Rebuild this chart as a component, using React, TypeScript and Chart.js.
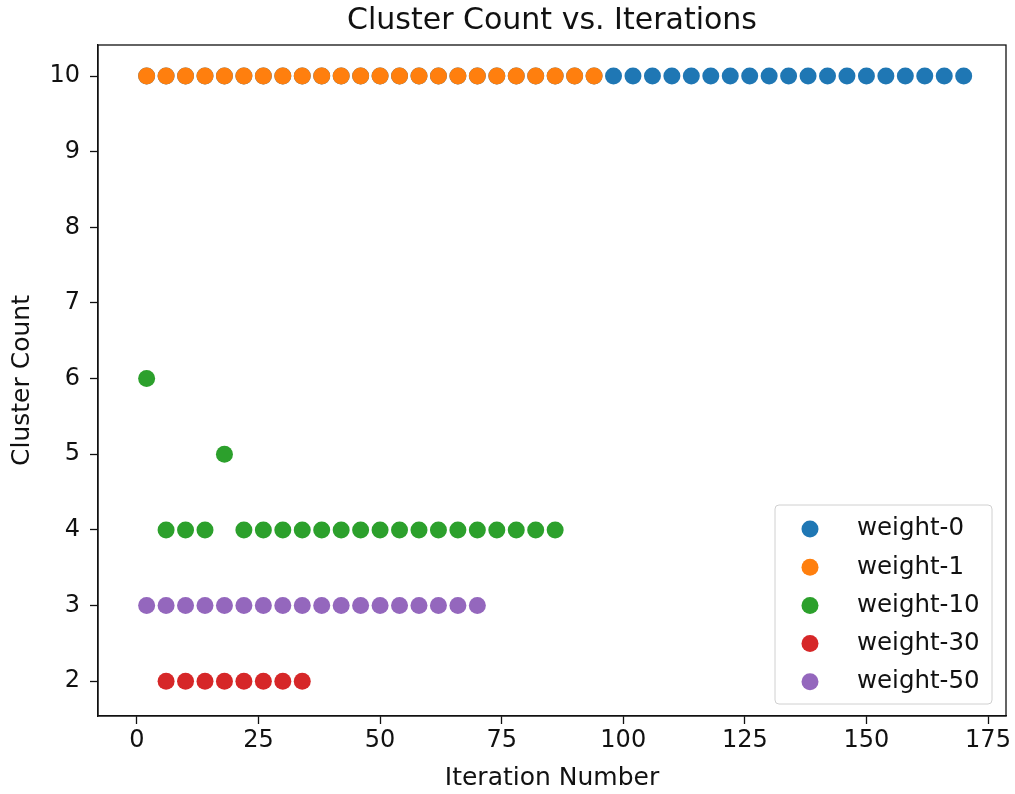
import React, { useEffect, useRef } from "react";
import { Chart, registerables } from "chart.js";

Chart.register(...registerables);

const chartTitle = "Cluster Count vs. Iterations";
const seriesLabels = ["weight-0", "weight-1", "weight-10", "weight-30", "weight-50"];
const seriesColors = ["#1f77b4", "#ff7f0e", "#2ca02c", "#d62728", "#9467bd"];

const weight0Iter = [2, 6, 10, 14, 18, 22, 26, 30, 34, 38, 42, 46, 50, 54, 58, 62, 66, 70, 74, 78, 82, 86, 90, 94, 98, 102, 106, 110, 114, 118, 122, 126, 130, 134, 138, 142, 146, 150, 154, 158, 162, 166, 170];
const weight0Count = [10, 10, 10, 10, 10, 10, 10, 10, 10, 10, 10, 10, 10, 10, 10, 10, 10, 10, 10, 10, 10, 10, 10, 10, 10, 10, 10, 10, 10, 10, 10, 10, 10, 10, 10, 10, 10, 10, 10, 10, 10, 10, 10];

const weight1Iter = [2, 6, 10, 14, 18, 22, 26, 30, 34, 38, 42, 46, 50, 54, 58, 62, 66, 70, 74, 78, 82, 86, 90, 94];
const weight1Count = [10, 10, 10, 10, 10, 10, 10, 10, 10, 10, 10, 10, 10, 10, 10, 10, 10, 10, 10, 10, 10, 10, 10, 10];

const weight10Iter = [2, 6, 10, 14, 18, 22, 26, 30, 34, 38, 42, 46, 50, 54, 58, 62, 66, 70, 74, 78, 82, 86];
const weight10Count = [6, 4, 4, 4, 5, 4, 4, 4, 4, 4, 4, 4, 4, 4, 4, 4, 4, 4, 4, 4, 4, 4];

const weight30Iter = [6, 10, 14, 18, 22, 26, 30, 34];
const weight30Count = [2, 2, 2, 2, 2, 2, 2, 2];

const weight50Iter = [2, 6, 10, 14, 18, 22, 26, 30, 34, 38, 42, 46, 50, 54, 58, 62, 66, 70];
const weight50Count = [3, 3, 3, 3, 3, 3, 3, 3, 3, 3, 3, 3, 3, 3, 3, 3, 3, 3];

const xTicks = [0, 25, 50, 75, 100, 125, 150, 175];
const yTicks = [2, 3, 4, 5, 6, 7, 8, 9, 10];

const FONT = "'DejaVu Sans', sans-serif";
const INK = "#111";

function pts(xs: number[], ys: number[]) {
  return xs.map((x, i) => ({ x, y: ys[i] }));
}

const framePlugin = {
  id: "frame",
  afterDatasetsDraw(chart: any) {
    const { ctx, chartArea } = chart;
    ctx.save();
    ctx.strokeStyle = INK;
    ctx.lineWidth = 1.3;
    ctx.strokeRect(chartArea.left, chartArea.top, chartArea.right - chartArea.left, chartArea.bottom - chartArea.top);
    ctx.restore();
  },
};

const titlePlugin = {
  id: "axesTitle",
  afterDraw(chart: any) {
    const { ctx, chartArea } = chart;
    ctx.save();
    ctx.font = `30px ${FONT}`;
    ctx.fillStyle = INK;
    ctx.textAlign = "center";
    ctx.textBaseline = "middle";
    ctx.fillText(chartTitle, (chartArea.left + chartArea.right) / 2, chartArea.top - 24);
    ctx.restore();
  },
};

const legendPlugin = {
  id: "mplLegend",
  afterDraw(chart: any) {
    const { ctx } = chart;
    const datasets = chart.data.datasets;
    const left = 775, top = 505, w = 217, h = 199;
    ctx.save();
    ctx.beginPath();
    ctx.roundRect(left, top, w, h, 4);
    ctx.fillStyle = "rgba(255,255,255,0.8)";
    ctx.fill();
    ctx.strokeStyle = "#d0d0d0";
    ctx.lineWidth = 1;
    ctx.stroke();
    ctx.font = `24.5px ${FONT}`;
    ctx.textBaseline = "middle";
    ctx.textAlign = "left";
    datasets.forEach((ds: any, i: number) => {
      const cy = top + 24 + i * 38.2;
      ctx.beginPath();
      ctx.arc(810, cy, 8.5, 0, Math.PI * 2);
      ctx.fillStyle = ds.backgroundColor;
      ctx.fill();
      ctx.fillStyle = INK;
      ctx.fillText(ds.label, 857, cy);
    });
    ctx.restore();
  },
};

export default function App() {
  const ref = useRef<HTMLCanvasElement>(null);
  useEffect(() => {
    const series = [
      pts(weight0Iter, weight0Count),
      pts(weight1Iter, weight1Count),
      pts(weight10Iter, weight10Count),
      pts(weight30Iter, weight30Count),
      pts(weight50Iter, weight50Count),
    ];
    const chart = new Chart(ref.current!, {
      type: "scatter",
      data: {
        datasets: series.map((d, i) => ({
          label: seriesLabels[i],
          data: d,
          backgroundColor: seriesColors[i],
          borderWidth: 0,
          pointRadius: 8.5,
          pointHoverRadius: 8.5,
          order: 5 - i,
        })),
      },
      options: {
        animation: false,
        responsive: false,
        layout: { padding: { left: 0, right: 9, top: 45, bottom: 0 } },
        plugins: {
          legend: { display: false },
          tooltip: { enabled: false },
          title: { display: false },
        },
        scales: {
          x: {
            type: "linear",
            min: -8,
            max: 178.7,
            afterBuildTicks: (s: any) => {
              s.ticks = xTicks.map((v) => ({ value: v }));
            },
            afterFit: (s: any) => {
              s.height = 78;
            },
            ticks: { color: INK, font: { family: FONT, size: 24 }, padding: 2 },
            grid: { display: true, drawOnChartArea: false, drawTicks: true, tickLength: 8, color: INK, tickWidth: 1.3 },
            border: { display: true, color: INK, width: 1.3 },
            title: { display: true, text: "Iteration Number", color: INK, font: { family: FONT, size: 25 }, padding: { top: 0, bottom: 1 } },
          },
          y: {
            type: "linear",
            min: 1.54,
            max: 10.41,
            afterBuildTicks: (s: any) => {
              s.ticks = yTicks.map((v) => ({ value: v }));
            },
            afterFit: (s: any) => {
              s.width = 98;
            },
            ticks: { color: INK, font: { family: FONT, size: 24 }, padding: 10 },
            grid: { display: true, drawOnChartArea: false, drawTicks: true, tickLength: 8, color: INK, tickWidth: 1.3 },
            border: { display: true, color: INK, width: 1.3 },
            title: { display: true, text: "Cluster Count", color: INK, font: { family: FONT, size: 25 }, padding: { top: 7, bottom: 0 } },
          },
        },
      },
      plugins: [framePlugin, titlePlugin, legendPlugin],
    });
    return () => chart.destroy();
  }, []);
  return (
    <div style={{ position: "absolute", left: 0, top: 0, width: 1015, height: 794, background: "#fff" }}>
      <canvas ref={ref} width={1015} height={794} style={{ width: 1015, height: 794 }} />
    </div>
  );
}
